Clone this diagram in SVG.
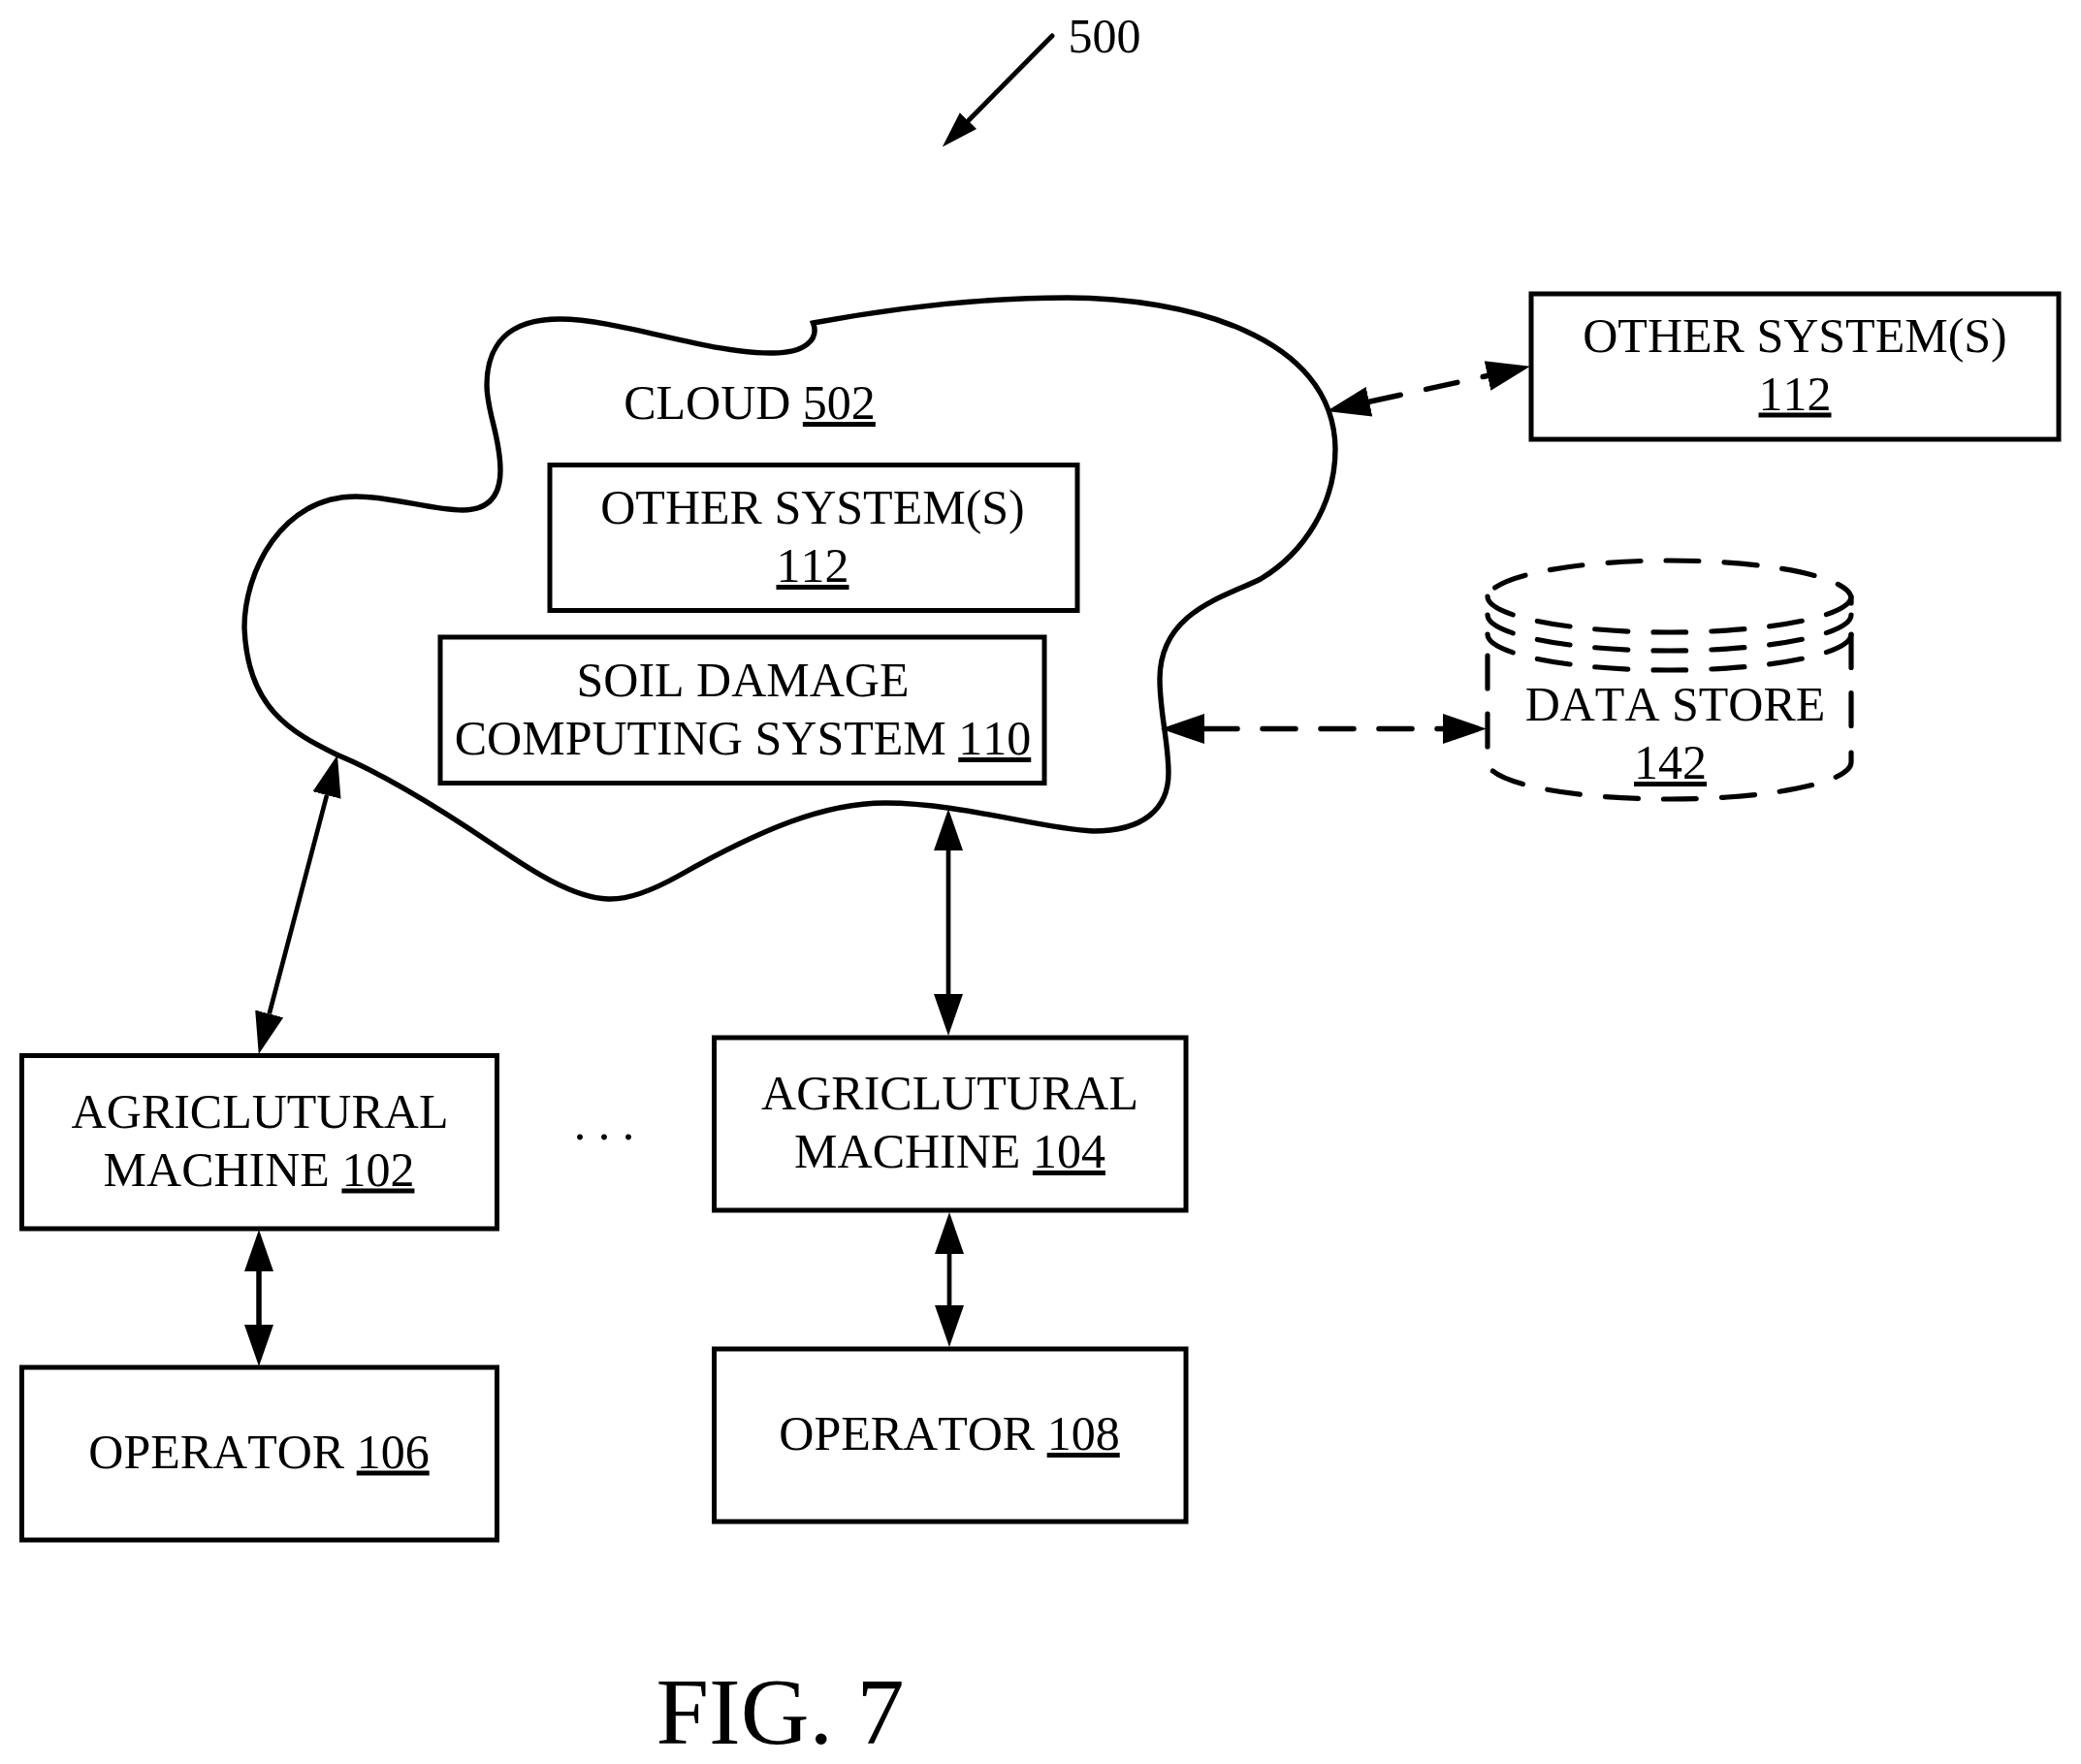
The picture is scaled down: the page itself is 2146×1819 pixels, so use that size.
<svg xmlns="http://www.w3.org/2000/svg" width="2146" height="1819" viewBox="0 0 2146 1819">
<style>
text{font-family:"Liberation Serif","Times New Roman",serif;font-size:50px;fill:#000;text-anchor:middle;font-kerning:none}
tspan.u{text-decoration:underline;text-decoration-thickness:3.5px}
.box{fill:#fff;stroke:#000;stroke-width:5}
.cloud{fill:#fff;stroke:#000;stroke-width:5.4}
.c{fill:none;stroke:#000;stroke-width:4.7}
.k{stroke-width:5.5;stroke-linecap:round;stroke-dasharray:33 27}
.d{fill:none;stroke:#000;stroke-width:5.2;stroke-linecap:round;stroke-dasharray:34 26}
</style>
<defs>
<marker id="a" markerUnits="userSpaceOnUse" markerWidth="46" markerHeight="32" refX="0" refY="16" orient="auto-start-reverse" viewBox="0 0 46 32"><path d="M0 1L43 16L0 31Z" fill="#000"/></marker>
<marker id="b" markerUnits="userSpaceOnUse" markerWidth="48" markerHeight="36" refX="0" refY="18" orient="auto-start-reverse" viewBox="0 0 48 36"><path d="M0 2.4L45 18L0 33.6Z" fill="#000"/></marker>
<marker id="e" markerUnits="userSpaceOnUse" markerWidth="42" markerHeight="28" refX="0" refY="14" orient="auto" viewBox="0 0 42 28"><path d="M0 2L38 14L0 26Z" fill="#000"/></marker>
</defs>
<g id="cloud-502">
<path class="cloud" d="M838.5 333C925 317 1010 307 1101 307C1220 307 1376 345 1377 463C1377 520 1345 570 1300 597C1265 615 1196 630 1196 700C1196 735 1205 765 1205 797C1205 835 1178 857 1127 857C1075 855 990 828 913 828C850 828 785 855 700 903C675 917 650 928 627 927C585 926 530 885 507 870C470 845 400 800 347 778C300 755 255 730 252 647C252 590 290 512 367 512C405 512 445 526 477 526C505 526 516 510 516 485C516 450 502 425 502 397C502 355 525 329 577 329C640 329 730 365 797 364C830 364 845 350 838.5 333Z"/>
<text x="773" y="432">CLOUD <tspan class="u">502</tspan></text>
</g>
<g id="other-systems-inner">
<rect class="box" x="567" y="479.5" width="544" height="150"/>
<text x="838" y="540">OTHER SYSTEM(S)</text>
<text x="838" y="600"><tspan class="u">112</tspan></text>
</g>
<g id="soil-damage-110">
<rect class="box" x="454" y="657" width="623" height="150.5"/>
<text x="766" y="718">SOIL DAMAGE</text>
<text x="766" y="778">COMPUTING SYSTEM <tspan class="u">110</tspan></text>
</g>
<g id="other-systems-outer">
<rect class="box" x="1579" y="303" width="544" height="150"/>
<text x="1851" y="363">OTHER SYSTEM(S)</text>
<text x="1851" y="422.5"><tspan class="u">112</tspan></text>
</g>
<g id="data-store-142">
<path class="d" style="stroke-dashoffset:-14" d="M1534 617A187.5 39 0 0 1 1909 617V622"/>
<path class="d" d="M1534 615A187.5 37 0 0 0 1909 615"/>
<path class="d" d="M1534 634A187.5 37 0 0 0 1909 634"/>
<path class="d" d="M1534 654A187.5 37 0 0 0 1909 654"/>
<path class="d" d="M1534 676V772"/>
<path class="d" d="M1909 654.5V753"/>
<path class="d" style="stroke-dashoffset:-11" d="M1534 786A187.5 38 0 0 0 1909 786V776"/>
<text x="1727.5" y="742.5">DATA STORE</text>
<text x="1722.5" y="803"><tspan class="u">142</tspan></text>
</g>
<g id="machine-102">
<rect class="box" x="22.5" y="1088.5" width="490" height="178.5"/>
<text x="268" y="1163">AGRICLUTURAL</text>
<text x="267" y="1222.5">MACHINE <tspan class="u">102</tspan></text>
</g>
<g id="machine-104">
<rect class="box" x="736.5" y="1070" width="486.5" height="178"/>
<text x="979.5" y="1144">AGRICLUTURAL</text>
<text x="979.5" y="1204">MACHINE <tspan class="u">104</tspan></text>
</g>
<g id="operator-106">
<rect class="box" x="22.5" y="1410" width="490" height="178"/>
<text x="267" y="1513.5">OPERATOR <tspan class="u">106</tspan></text>
</g>
<g id="operator-108">
<rect class="box" x="736.5" y="1391" width="486.5" height="178"/>
<text x="979" y="1495">OPERATOR <tspan class="u">108</tspan></text>
</g>
<g id="connectors">
<line class="c" style="stroke-width:5;stroke-linecap:round" x1="1085" y1="37" x2="998.5" y2="124.5" marker-end="url(#e)"/>
<line class="c" x1="337" y1="820" x2="277.7" y2="1045.4" marker-start="url(#a)" marker-end="url(#a)"/>
<line class="c" x1="978" y1="877" x2="978" y2="1025" marker-start="url(#a)" marker-end="url(#a)"/>
<line class="c" style="stroke-width:5.5" x1="267" y1="1311" x2="267" y2="1366" marker-start="url(#a)" marker-end="url(#a)"/>
<line class="c" x1="979" y1="1293" x2="979" y2="1346" marker-start="url(#a)" marker-end="url(#a)"/>
<line class="c k" x1="1412" y1="414.3" x2="1534" y2="387.5" marker-start="url(#b)" marker-end="url(#b)"/>
<line class="c k" style="stroke-dasharray:34 26" x1="1242" y1="751.5" x2="1488" y2="751.5" marker-start="url(#b)" marker-end="url(#b)"/>
</g>
<text x="1139" y="54">500</text>
<text x="623" y="1175">. . .</text>
<text x="804.5" y="1798" style="font-size:98px">FIG. 7</text>
</svg>
